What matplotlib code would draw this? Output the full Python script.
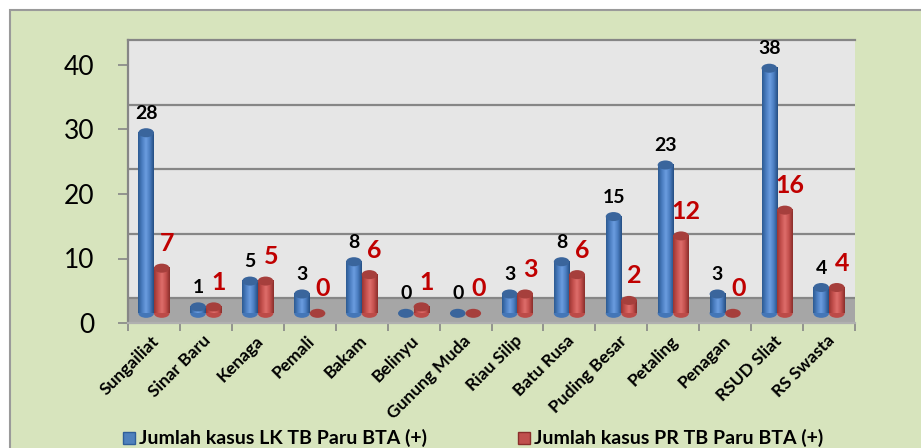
import numpy as np
import matplotlib.pyplot as plt
from matplotlib.patches import Ellipse, Rectangle
from matplotlib.colors import LinearSegmentedColormap

# Data
categories = ['Sungailiat', 'Sinar Baru', 'Kenaga', 'Pemali', 'Bakam', 'Belinyu',
              'Gunung Muda', 'Riau Silip', 'Batu Rusa', 'Puding Besar', 'Petaling',
              'Penagan', 'RSUD Sliat', 'RS Swasta']
lk_values = [28, 1, 5, 3, 8, 0, 0, 3, 8, 15, 23, 3, 38, 4]
pr_values = [7, 1, 5, 0, 6, 1, 0, 3, 6, 2, 12, 0, 16, 4]
lk_label = 'Jumlah kasus LK TB Paru BTA (+)'
pr_label = 'Jumlah kasus PR TB Paru BTA (+)'

plt.rcParams['font.family'] = ['Lato', 'DejaVu Sans']

W, H = 921, 448
fig = plt.figure(figsize=(W / 100, H / 100), dpi=100, facecolor='white')

# chart area background (olive green, Excel style)
fig.patches.append(Rectangle((10 / W, -0.1), 1.0, 1 - 10 / H + 0.1,
                             transform=fig.transFigure, facecolor='#d7e4bd',
                             edgecolor='#9a9a9a', linewidth=1.5, zorder=-5))

# axes: x from 128px to 855px, y zero at 323px, 6.45 px per unit
ymax = 43.9
y0_px = H - 323
top_px = y0_px + ymax * 6.45
ax = fig.add_axes([128 / W, y0_px / H, (855 - 128) / W, (top_px - y0_px) / H])
ax.set_facecolor('#e6e6e6')

floor = 3.85
n = len(categories)
ax.add_patch(Rectangle((0, 0), n, floor, facecolor='#a6a6a6', edgecolor='none', zorder=1))
for g in [floor + 10 * k for k in range(4)]:
    ax.axhline(g, color='#868686', linewidth=1.6, zorder=1.5)

blue_cmap = LinearSegmentedColormap.from_list(
    'b', ['#2c5a92', '#4a7dc0', '#6b9de0', '#4a7dc0', '#254e82'])
red_cmap = LinearSegmentedColormap.from_list(
    'r', ['#9a3532', '#c4504d', '#de6e6b', '#c4504d', '#8a2e2b'])

base = 1.5
bw = 0.3
eh = 1.4
grad = np.linspace(0, 1, 64)[np.newaxis, :]


def cylinder(xc, h, cmap, cap):
    if h > 0:
        ax.add_patch(Ellipse((xc, base), bw, eh, facecolor=cmap(0.2),
                             edgecolor='none', zorder=3))
        ax.imshow(grad, extent=(xc - bw / 2, xc + bw / 2, base, base + h),
                  aspect='auto', cmap=cmap, zorder=3.1, interpolation='bilinear')
    ax.add_patch(Ellipse((xc, base + h), bw, eh, facecolor=cap,
                         edgecolor='none', zorder=3.2))


x = np.arange(n) + 0.5
for i in range(n):
    cylinder(x[i] - 0.15, lk_values[i], blue_cmap, '#3a659c')
    cylinder(x[i] + 0.15, pr_values[i], red_cmap, '#a63f3c')
    ax.text(x[i] - 0.15, base + lk_values[i] + 3.0, str(lk_values[i]),
            ha='center', va='center', fontsize=14, fontweight='bold',
            color='black', zorder=5)
    ax.text(x[i] + 0.25, base + pr_values[i] + 3.8, str(pr_values[i]),
            ha='center', va='center', fontsize=18, fontweight='bold',
            color='#c00000', zorder=5)

ax.set_xlim(0, n)
ax.set_ylim(0, ymax)

ax.set_yticks([0, 10, 20, 30, 40])
ax.set_yticklabels(['0', '10', '20', '30', '40'], fontsize=19)
ax.tick_params(axis='y', length=7, width=1.2, color='#868686', pad=17)

ax.set_xticks(np.arange(n + 1), minor=True)
ax.set_xticks(x + 0.05)
ax.set_xticklabels(categories, rotation=45, ha='right', va='center',
                   rotation_mode='anchor', fontsize=12.5, fontweight='bold')
ax.tick_params(axis='x', which='major', length=0, pad=11)
ax.tick_params(axis='x', which='minor', length=6, width=1.2, color='#868686')

for s in ax.spines.values():
    s.set_color('#868686')
    s.set_linewidth(1.6)
ax.spines['bottom'].set_color('#b0b0b0')
ax.spines['right'].set_visible(False)

# legend
fig.patches.append(Rectangle((123 / W, 1 - 444 / H), 12 / W, 12 / H,
                             transform=fig.transFigure, facecolor='#4f81bd',
                             edgecolor='#2f5f9a', linewidth=1))
fig.text(139 / W, 1 - 438 / H, lk_label, ha='left', va='center',
         fontsize=14, fontweight='bold')
fig.patches.append(Rectangle((518 / W, 1 - 444 / H), 12 / W, 12 / H,
                             transform=fig.transFigure, facecolor='#c0504d',
                             edgecolor='#8a2e2b', linewidth=1))
fig.text(534 / W, 1 - 438 / H, pr_label, ha='left', va='center',
         fontsize=14, fontweight='bold')

fig.savefig('out.png', dpi=100, facecolor='white')
